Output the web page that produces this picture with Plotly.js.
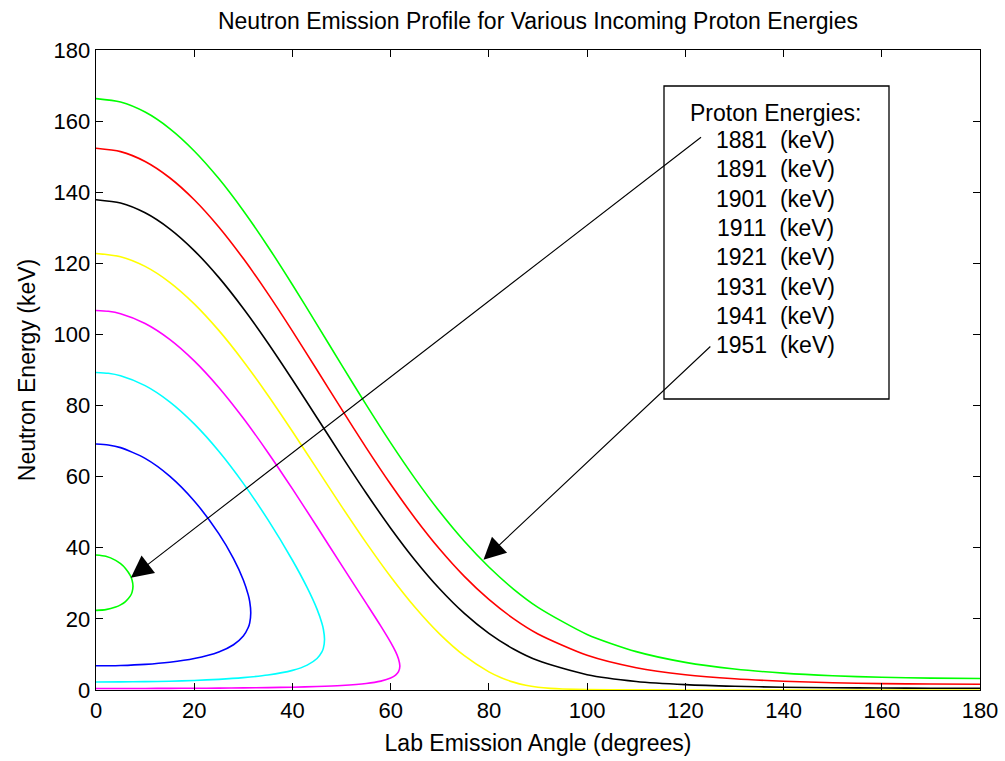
<!DOCTYPE html>
<html>
<head>
<meta charset="utf-8">
<script src="https://cdn.plot.ly/plotly-3.0.1.min.js"></script>
<style>html,body{margin:0;padding:0;background:#fff;}#chart{width:1005px;height:761px;}</style>
</head>
<body>
<div id="chart"></div>
<script>
// Proton energies (keV) and their line colours
const energies = [1881, 1891, 1901, 1911, 1921, 1931, 1941, 1951];
const colors = ['#00ff00', '#0000ff', '#00ffff', '#ff00ff', '#ffff00', '#000000', '#ff0000', '#00ff00'];

// 1881 keV (closed loop: upper branch out, lower branch back)
const ang1881 = [0, 2, 4, 5, 6, 7, 7.35, 7.53, 7.35, 7, 6, 5, 4, 2, 0];
const en1881 = [37.96, 37.60, 36.46, 35.51, 34.19, 32.14, 30.88, 29.16, 27.53, 26.46, 24.87, 23.94, 23.32, 22.61, 22.40];

// 1891 keV
const ang1891 = [0, 2.5, 5, 10, 15, 20, 25, 28, 30, 31, 31.3, 31.51, 31.3, 31, 30, 28, 25, 20, 15, 10, 5, 2.5, 0];
const en1891 = [69.17, 68.92, 68.17, 65.16, 60.17, 53.18, 43.97, 36.95, 30.96, 26.75, 24.87, 21.68, 18.90, 17.57, 15.18, 12.72, 10.69, 8.84, 7.81, 7.21, 6.89, 6.82, 6.80];

// 1901 keV
const ang1901 = [0, 2.5, 5, 10, 15, 20, 25, 30, 35, 40, 43, 45, 46, 46.3, 46.53, 46.3, 46, 45, 43, 40, 35, 30, 25, 20, 15, 10, 5, 0];
const en1901 = [89.31, 89.07, 88.37, 85.60, 81.05, 74.84, 67.15, 58.12, 47.90, 36.49, 28.78, 22.74, 18.78, 17.09, 14.19, 11.78, 10.72, 8.86, 7.00, 5.52, 4.20, 3.47, 3.00, 2.69, 2.48, 2.35, 2.28, 2.26];

// 1911 keV
const ang1911 = [0, 2.5, 5, 10, 15, 20, 25, 30, 35, 40, 45, 50, 55, 58, 60, 61, 61.6, 61.87, 61.6, 61, 60, 58, 55, 50, 45, 40, 35, 30, 25, 20, 15, 10, 5, 0];
const en1911 = [106.74, 106.51, 105.82, 103.09, 98.63, 92.57, 85.10, 76.43, 66.82, 56.55, 45.90, 35.13, 24.43, 17.96, 13.39, 10.77, 8.73, 6.70, 5.14, 4.17, 3.35, 2.50, 1.84, 1.28, 0.98, 0.79, 0.67, 0.59, 0.53, 0.49, 0.46, 0.44, 0.42, 0.42];

// 1921 keV
const ang1921 = [0, 5, 10, 15, 20, 25, 30, 35, 40, 45, 50, 55, 60, 65, 70, 75, 80, 82.5, 85, 87.5, 90, 92.5, 95, 100, 110, 120, 140, 160, 180];
const en1921 = [122.78, 121.87, 119.14, 114.67, 108.61, 101.14, 92.49, 82.91, 72.71, 62.18, 51.65, 41.45, 31.86, 23.20, 15.72, 9.64, 5.11, 3.47, 2.22, 1.35, 0.79, 0.46, 0.28, 0.12, 0.04, 0.02, 0.01, 0.01, 0.01];

// 1931 keV
const ang1931 = [0, 5, 10, 15, 20, 25, 30, 35, 40, 45, 50, 55, 60, 65, 70, 75, 80, 85, 90, 100, 110, 120, 130, 140, 150, 160, 170, 180];
const en1931 = [137.90, 136.97, 134.21, 129.71, 123.59, 116.05, 107.30, 97.61, 87.27, 76.58, 65.86, 55.41, 45.51, 36.44, 28.40, 21.54, 15.93, 11.55, 8.28, 4.30, 2.41, 1.51, 1.04, 0.79, 0.64, 0.56, 0.51, 0.50];

// 1941 keV
const ang1941 = [0, 5, 10, 15, 20, 25, 30, 35, 40, 45, 50, 55, 60, 65, 70, 75, 80, 85, 90, 100, 110, 120, 130, 140, 150, 160, 170, 180];
const en1941 = [152.37, 151.42, 148.64, 144.07, 137.87, 130.22, 121.33, 111.48, 100.94, 90.00, 78.99, 68.18, 57.86, 48.26, 39.58, 31.96, 25.47, 20.09, 15.77, 9.77, 6.28, 4.30, 3.15, 2.46, 2.05, 1.80, 1.67, 1.63];

// 1951 keV
const ang1951 = [0, 5, 10, 15, 20, 25, 30, 35, 40, 45, 50, 55, 60, 65, 70, 75, 80, 85, 90, 100, 110, 120, 130, 140, 150, 160, 170, 180];
const en1951 = [166.33, 165.37, 162.54, 157.91, 151.61, 143.84, 134.80, 124.75, 113.98, 102.78, 91.44, 80.25, 69.49, 59.38, 50.11, 41.82, 34.58, 28.40, 23.25, 15.63, 10.79, 7.78, 5.91, 4.74, 4.01, 3.57, 3.33, 3.25];

// Axis ticks
const tickVals = [0, 20, 40, 60, 80, 100, 120, 140, 160, 180];

const series = [
  [ang1881, en1881],
  [ang1891, en1891],
  [ang1901, en1901],
  [ang1911, en1911],
  [ang1921, en1921],
  [ang1931, en1931],
  [ang1941, en1941],
  [ang1951, en1951]
];

const traces = series.map((s, i) => ({
  x: s[0], y: s[1], type: 'scatter', mode: 'lines',
  name: energies[i] + ' (keV)',
  line: {color: colors[i], width: 1.6, shape: 'spline', smoothing: 0.7},
  hoverinfo: 'skip'
}));

const FONT = 'Liberation Sans, Arial, Helvetica, sans-serif';

// paper-coordinate helpers for the text box (plot area 96..980 x, 50..690 y)
const px = v => (v - 96) / 884;
const py = v => (690 - v) / 640;

const annotations = [];
annotations.push({
  xref: 'paper', yref: 'paper', x: px(775), y: py(113),
  xanchor: 'center', yanchor: 'middle', showarrow: false,
  text: 'Proton Energies:', font: {family: FONT, size: 23, color: '#000'}
});
energies.forEach((e, i) => {
  annotations.push({
    xref: 'paper', yref: 'paper', x: px(775), y: py(140 + 29.3 * i),
    xanchor: 'center', yanchor: 'middle', showarrow: false,
    text: e + '\u00a0 (keV)', font: {family: FONT, size: 23, color: '#000'}
  });
});
// arrows
annotations.push({
  x: 7.1, y: 31.6, xref: 'x', yref: 'y',
  ax: 123.5, ay: 155.8, axref: 'x', ayref: 'y',
  text: '', showarrow: true, arrowhead: 2, arrowsize: 4, arrowwidth: 1.1, arrowcolor: '#000'
});
annotations.push({
  x: 78.9, y: 36.6, xref: 'x', yref: 'y',
  ax: 125.4, ay: 97.0, axref: 'x', ayref: 'y',
  text: '', showarrow: true, arrowhead: 2, arrowsize: 4, arrowwidth: 1.1, arrowcolor: '#000'
});

const axisCommon = {
  range: [0, 180], tickvals: tickVals, ticks: 'inside', ticklen: 7, tickwidth: 1.2,
  tickcolor: '#000', showline: true, linecolor: '#000', linewidth: 1.3, mirror: 'ticks',
  showgrid: false, zeroline: false, fixedrange: true,
  tickfont: {family: FONT, size: 22, color: '#000'}
};

const layout = {
  width: 1005, height: 761,
  margin: {l: 96, r: 25, t: 50, b: 71, pad: 0},
  paper_bgcolor: '#fff', plot_bgcolor: '#fff',
  showlegend: false,
  title: {
    text: 'Neutron Emission Profile for Various Incoming Proton Energies',
    font: {family: FONT, size: 23, color: '#000'},
    x: 0.5, xref: 'paper', y: 1 - 21 / 761, yref: 'container', yanchor: 'middle'
  },
  xaxis: Object.assign({}, axisCommon, {
    title: {text: 'Lab Emission Angle (degrees)', font: {family: FONT, size: 23, color: '#000'}, standoff: 13}
  }),
  yaxis: Object.assign({}, axisCommon, {
    title: {text: 'Neutron Energy (keV)', font: {family: FONT, size: 23, color: '#000'}, standoff: 11}
  }),
  shapes: [{
    type: 'rect', xref: 'paper', yref: 'paper',
    x0: px(664), x1: px(889), y0: py(399), y1: py(86),
    line: {color: '#000', width: 1.3}, fillcolor: 'rgba(0,0,0,0)'
  }],
  annotations: annotations
};

Plotly.newPlot('chart', traces, layout, {displayModeBar: false, staticPlot: true});
</script>
</body>
</html>
